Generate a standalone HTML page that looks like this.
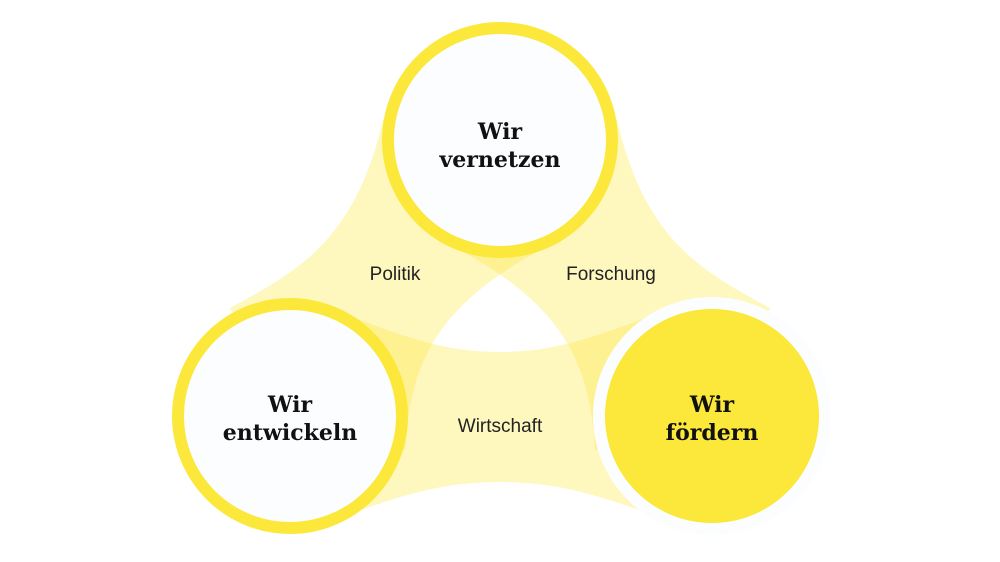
<!DOCTYPE html>
<html><head><style>
html,body{margin:0;padding:0;background:#fff;}
svg{display:block}
.t{font-family:"DejaVu Serif","Liberation Serif",serif;font-weight:bold;font-size:22px;fill:#111;text-anchor:middle}
.l{font-family:"Liberation Sans",sans-serif;font-size:19px;fill:#222;text-anchor:middle}
</style></head><body>
<svg width="1000" height="562" viewBox="0 0 1000 562" xmlns="http://www.w3.org/2000/svg">
<g fill="#fbe83a" fill-opacity="0.33">
<path d="M383,120 C355,240 300,270 230,308 L290,415 L405,450 C410,370 430,310 540,250 L500,140 Z"/>
<path d="M617,120 C645,240 700,270 770,308 L712,415 L595,450 C590,370 570,310 460,250 L500,140 Z"/>
<path d="M320,305 C400,335 440,352 500,352 C560,352 600,335 680,305 L712,415 L680,525 C600,495 560,482 500,482 C440,482 400,495 320,525 L290,415 Z"/>
</g>
<circle cx="500" cy="140" r="112" fill="#fcfdfe" stroke="#fbe83a" stroke-width="12"/>
<circle cx="290" cy="416" r="112" fill="#fcfdfe" stroke="#fbe83a" stroke-width="12"/>
<circle cx="712" cy="416" r="119" fill="#fcfdfe"/>
<circle cx="712" cy="416" r="107" fill="#fbe83a"/>
<text class="t" x="500" y="139">Wir</text>
<text class="t" x="500" y="167">vernetzen</text>
<text class="t" x="290" y="412">Wir</text>
<text class="t" x="290" y="440">entwickeln</text>
<text class="t" x="712" y="412">Wir</text>
<text class="t" x="712" y="440">fördern</text>
<text class="l" x="395" y="280">Politik</text>
<text class="l" x="611" y="280">Forschung</text>
<text class="l" x="500" y="432">Wirtschaft</text>
</svg>
</body></html>
